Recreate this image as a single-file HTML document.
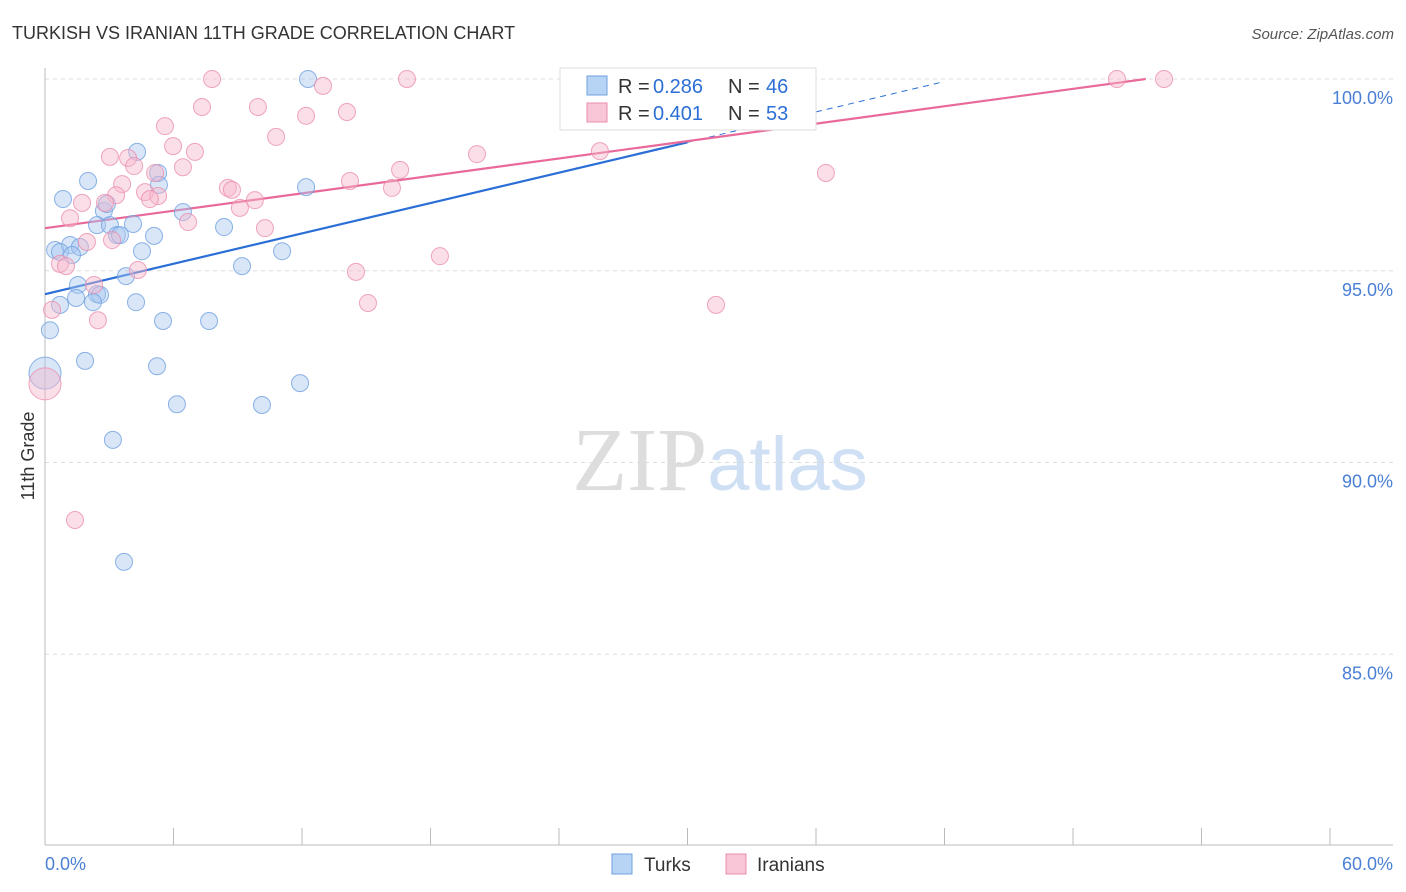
<!DOCTYPE html>
<html><head><meta charset="utf-8"><style>
body{margin:0;background:#fff;font-family:"Liberation Sans",sans-serif}
svg{display:block}
</style></head><body>
<svg id="chart" width="1406" height="892" xmlns="http://www.w3.org/2000/svg">
<text x="12" y="39" font-size="18" fill="#333">TURKISH VS IRANIAN 11TH GRADE CORRELATION CHART</text>
<text x="1394" y="39" font-size="15" fill="#555" text-anchor="end" font-style="italic">Source: ZipAtlas.com</text>
<text x="720" y="490" font-size="90" text-anchor="middle" fill="#ddd" font-family="Liberation Serif">ZIP<tspan fill="#cfe0f5" font-family="Liberation Sans" font-size="76">atlas</tspan></text>
<text transform="translate(34,456) rotate(-90)" font-size="18" fill="#333" text-anchor="middle">11th Grade</text>
<g id="grid"></g><g id="axes"></g><g id="lines"></g><g id="pts"></g>
<g>
<rect x="560" y="68" width="256" height="62" fill="#fff" stroke="#ddd"/>
<rect x="587" y="76" width="20" height="19" fill="#b8d4f5" stroke="#6fa0e0"/>
<text x="618" y="93" font-size="20" fill="#333">R = </text>
<text x="653" y="93" font-size="20" fill="#2b6fd6">0.286</text>
<text x="728" y="93" font-size="20" fill="#333">N = </text>
<text x="766" y="93" font-size="20" fill="#2b6fd6">46</text>
<rect x="587" y="103" width="20" height="19" fill="#f8c6d6" stroke="#eb8fae"/>
<text x="618" y="120" font-size="20" fill="#333">R = </text>
<text x="653" y="120" font-size="20" fill="#2b6fd6">0.401</text>
<text x="728" y="120" font-size="20" fill="#333">N = </text>
<text x="766" y="120" font-size="20" fill="#2b6fd6">53</text>
</g>
<g>
<rect x="612" y="854" width="20" height="20" fill="#b8d4f5" stroke="#6fa0e0"/>
<text x="644" y="871" font-size="19" fill="#333">Turks</text>
<rect x="726" y="854" width="20" height="20" fill="#f8c6d6" stroke="#eb8fae"/>
<text x="757" y="871" font-size="19" fill="#333">Iranians</text>
</g>
</svg>
<script>
const turksX=[12.28,4.30,2.01,5.28,5.32,12.19,0.84,6.44,2.75,2.89,2.43,3.03,4.11,8.36,3.36,3.50,5.09,0.47,1.17,1.63,0.70,1.26,4.53,11.07,9.20,3.78,1.54,2.43,2.57,1.45,0.70,2.24,4.25,5.51,7.66,0.23,1.87,5.23,0,11.91,6.16,10.13,3.17,3.69,29.46];
const turksY=[100,98.10,97.34,97.55,97.24,97.18,96.87,96.53,96.56,96.74,96.19,96.19,96.22,96.14,95.93,95.93,95.91,95.54,95.67,95.62,95.49,95.41,95.51,95.51,95.12,94.86,94.63,94.39,94.37,94.29,94.11,94.18,94.18,93.69,93.69,93.45,92.65,92.51,92.33,92.07,91.52,91.50,90.59,87.41,100];
const iranX=[7.80,16.90,35.53,50.05,52.25,12.98,7.33,9.94,12.19,14.10,5.60,10.79,5.98,7.00,3.03,3.88,20.17,25.91,4.16,6.44,5.14,16.58,36.46,3.60,14.24,8.54,8.73,16.20,4.67,5.28,3.32,9.80,4.90,1.73,2.80,9.10,1.17,6.68,10.27,1.96,3.13,0.70,0.98,18.44,14.52,4.34,2.29,15.08,31.33,2.47,0.33,0,1.40];
const iranY=[100,100,100,100,100,99.82,99.27,99.27,99.04,99.14,98.77,98.49,98.25,98.10,97.97,97.94,98.04,98.12,97.73,97.70,97.55,97.63,97.55,97.26,97.34,97.16,97.11,97.16,97.05,96.95,96.97,96.84,96.87,96.77,96.77,96.64,96.37,96.27,96.11,95.75,95.80,95.18,95.12,95.38,94.97,95.02,94.63,94.16,94.11,93.71,93.98,92.05,88.50];
const yTicks=[100,95,90,85];
const yTickLabels=["100.0%","95.0%","90.0%","85.0%"];
const turksTrend=[94.39,0.132];
const iranTrend=[96.11,0.0757];
const NS="http://www.w3.org/2000/svg";
const X=v=>45+v/60*1285, Y=v=>79+(100-v)*38.35;
function mk(tag,at,parent){const e=document.createElementNS(NS,tag);for(const k in at)e.setAttribute(k,at[k]);document.getElementById(parent).appendChild(e);return e;}
yTicks.forEach((t,i)=>{
 const l=mk('line',{x1:45,x2:1393,y1:Y(t),y2:Y(t),stroke:'#ddd','stroke-dasharray':'4,4'},'grid');
 
 
 const tx=mk('text',{x:1393,y:Y(t)+25,'font-size':18,fill:'#4a7fd6','text-anchor':'end'},'grid');
 tx.textContent=yTickLabels[i];
 
 
});
const ax=mk('line',{x1:45,x2:1393,y1:845,y2:845,stroke:'#bbb'},'axes');


const ay=mk('line',{x1:45,x2:45,y1:68,y2:845,stroke:'#bbb'},'axes');


for(let i=0;i<=10;i++){const t=mk('line',{x1:X(i*6),x2:X(i*6),y1:828,y2:845,stroke:'#bbb'},'axes');
 
 }
[[ "0.0%",45,'start'],["60.0%",1393,'end']].forEach(d=>{const t=mk('text',{x:d[1],y:870,'font-size':18,fill:'#4a7fd6','text-anchor':d[2]},'axes');t.textContent=d[0];
 
 });
function pts(xs,ys,fill,stroke,name){xs.forEach((x,i)=>{const big=x===0;const c=mk('circle',{cx:X(x),cy:Y(ys[i]),r:big?16:8.5,fill:fill,'fill-opacity':0.45,stroke:stroke,'stroke-opacity':0.8},'pts');
 
 });}
pts(turksX,turksY,'#a8c8f0','#6fa0e0','turks-point');
pts(iranX,iranY,'#f6b8cc','#eb8fae','iranians-point');
let l=mk('line',{x1:X(0),y1:Y(turksTrend[0]),x2:X(30),y2:Y(turksTrend[0]+turksTrend[1]*30),stroke:'#2b6fd6','stroke-width':2.2},'lines');


l=mk('line',{x1:X(30),y1:Y(turksTrend[0]+turksTrend[1]*30),x2:X(42),y2:Y(turksTrend[0]+turksTrend[1]*42),stroke:'#2b6fd6','stroke-width':1,'stroke-dasharray':'6,5'},'lines');


l=mk('line',{x1:X(0),y1:Y(iranTrend[0]),x2:X(51.4),y2:Y(iranTrend[0]+iranTrend[1]*51.4),stroke:'#e8699a','stroke-width':2.2},'lines');


</script>
</body></html>
